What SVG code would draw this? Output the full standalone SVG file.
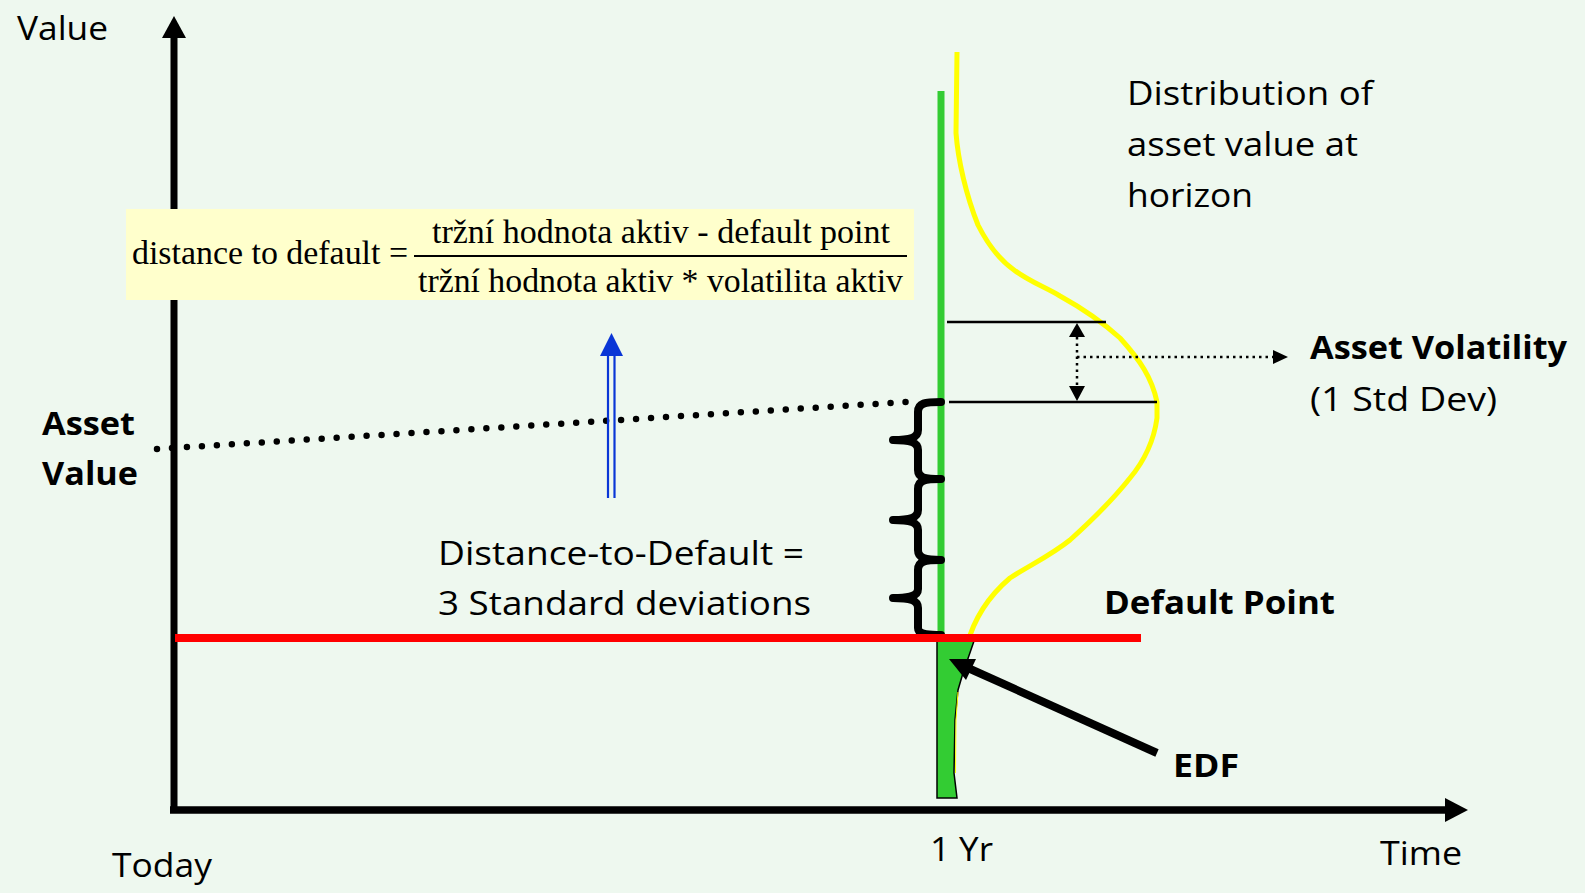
<svg xmlns="http://www.w3.org/2000/svg" width="1585" height="893" viewBox="0 0 1585 893">
<style>
.t{font-family:"Open Sans","Liberation Sans",sans-serif;font-size:32px;fill:#000}
.b{font-family:"Open Sans","Liberation Sans",sans-serif;font-size:32px;font-weight:bold;fill:#000}
.f{font-family:"Liberation Serif","Times New Roman",serif;font-size:33px;fill:#000}
.thin{stroke:#000;stroke-width:2.5;fill:none}
</style>
<rect width="1585" height="893" fill="#eef8ef"/>

<g id="axes">
<line x1="174" y1="810" x2="174" y2="36" stroke="#000" stroke-width="7"/>
<polygon points="174,16 162,38 186,38" fill="#000"/>
<line x1="170" y1="810" x2="1447" y2="810" stroke="#000" stroke-width="7.5"/>
<polygon points="1468,810 1445,798 1445,822" fill="#000"/>
</g>

<g id="connectors">
<line x1="157" y1="449" x2="906" y2="402" stroke="#000" stroke-width="6.5" stroke-linecap="round" stroke-dasharray="0 15"/>
<g id="blue-arrow">
<line x1="608" y1="354" x2="608" y2="498" stroke="#0a36d6" stroke-width="2.2"/>
<line x1="614.5" y1="354" x2="614.5" y2="498" stroke="#0a36d6" stroke-width="2.2"/>
<polygon points="611.5,333 600,356 623,356" fill="#0a36d6"/>
</g>
</g>

<g id="formula">
<rect x="126" y="209" width="788" height="91" fill="#ffffcc"/>
<text class="f" x="132" y="264" textLength="276" lengthAdjust="spacingAndGlyphs">distance to default =</text>
<line x1="414" y1="256" x2="907" y2="256" stroke="#000" stroke-width="1.8"/>
<text class="f" x="432" y="243" textLength="458" lengthAdjust="spacingAndGlyphs">tržní hodnota aktiv - default point</text>
<text class="f" x="418" y="292" textLength="485" lengthAdjust="spacingAndGlyphs">tržní hodnota aktiv * volatilita aktiv</text>
</g>

<g id="distribution">
<path d="M957,52 L956,133 C958,160 966,195 978,225 C988,245 1000,260 1014,270 C1030,282 1045,287 1060,296 C1080,307 1100,320 1120,338 C1140,360 1152,378 1157,402 L1157,418 C1154,440 1145,460 1130,478 C1115,497 1090,522 1070,540 C1050,556 1030,565 1010,578 C990,595 975,615 967,645" fill="none" stroke="#ffff00" stroke-width="5" stroke-linejoin="round"/>
<line x1="941" y1="91" x2="941" y2="640" stroke="#33cc33" stroke-width="7"/>
<path d="M937,641 L974,641 L963,673 L958,690 L955,720 L954,773 L957,798 L937,798 Z" fill="#33cc33" stroke="#000" stroke-width="1.5"/>
<path d="M958,692 L956,720 L955.5,773" fill="none" stroke="#ffff00" stroke-width="1"/>
</g>

<g id="volatility">
<line class="thin" x1="947" y1="322" x2="1106" y2="322"/>
<line class="thin" x1="949" y1="402" x2="1157" y2="402"/>
<line x1="1077" y1="337" x2="1077" y2="386" stroke="#000" stroke-width="2.5" stroke-dasharray="2.5 4"/>
<polygon points="1077,323 1069,337 1085,337" fill="#000"/>
<polygon points="1077,401 1069,386 1085,386" fill="#000"/>
<line x1="1077" y1="357" x2="1274" y2="357" stroke="#000" stroke-width="2.5" stroke-dasharray="2.5 4"/>
<polygon points="1288,357 1273,350 1273,364" fill="#000"/>
</g>

<g id="braces">
<path d="M941,402 C925,402 918,403 918,412 L918,430 C918,438 910,440 893,440 C910,440 918,442 918,450 L918,470 C918,478 925,479 941,479 C925,479 918,480 918,489 L918,510 C918,518 910,520 893,520 C910,520 918,522 918,530 L918,550 C918,558 925,560 941,560 C925,560 918,561 918,570 L918,589 C918,596 910,598 893,598 C910,598 918,600 918,608 L918,628 C918,634 925,635 941,635" fill="none" stroke="#000" stroke-width="8" stroke-linecap="round" stroke-linejoin="round"/>
</g>

<g id="default-line">
<line x1="175" y1="638" x2="1141" y2="638" stroke="#ff0000" stroke-width="8"/>
</g>

<g id="edf-arrow">
<line x1="1157" y1="753" x2="968" y2="668" stroke="#000" stroke-width="8"/>
<polygon points="949,659 976,659 966,680" fill="#000"/>
</g>

<g id="labels">
<text class="t" x="17" y="40" textLength="91" lengthAdjust="spacingAndGlyphs">Value</text>
<text class="t" x="1127" y="105" textLength="246" lengthAdjust="spacingAndGlyphs">Distribution of</text>
<text class="t" x="1127" y="156" textLength="231" lengthAdjust="spacingAndGlyphs">asset value at</text>
<text class="t" x="1127" y="207" textLength="126" lengthAdjust="spacingAndGlyphs">horizon</text>
<text class="b" x="1310" y="359" textLength="257" lengthAdjust="spacingAndGlyphs">Asset Volatility</text>
<text class="t" x="1310" y="411" textLength="187" lengthAdjust="spacingAndGlyphs">(1 Std Dev)</text>
<text class="b" x="42" y="435" textLength="93" lengthAdjust="spacingAndGlyphs">Asset</text>
<text class="b" x="42" y="485" textLength="96" lengthAdjust="spacingAndGlyphs">Value</text>
<text class="t" x="438" y="565" textLength="366" lengthAdjust="spacingAndGlyphs">Distance-to-Default =</text>
<text class="t" x="438" y="615" textLength="373" lengthAdjust="spacingAndGlyphs">3 Standard deviations</text>
<text class="b" x="1104" y="614" textLength="231" lengthAdjust="spacingAndGlyphs">Default Point</text>
<text class="b" x="1173" y="777" textLength="66" lengthAdjust="spacingAndGlyphs">EDF</text>
<text class="t" x="930" y="861" textLength="63" lengthAdjust="spacingAndGlyphs">1 Yr</text>
<text class="t" x="1380" y="865" textLength="82" lengthAdjust="spacingAndGlyphs">Time</text>
<text class="t" x="112" y="877" textLength="100" lengthAdjust="spacingAndGlyphs">Today</text>
</g>
</svg>
